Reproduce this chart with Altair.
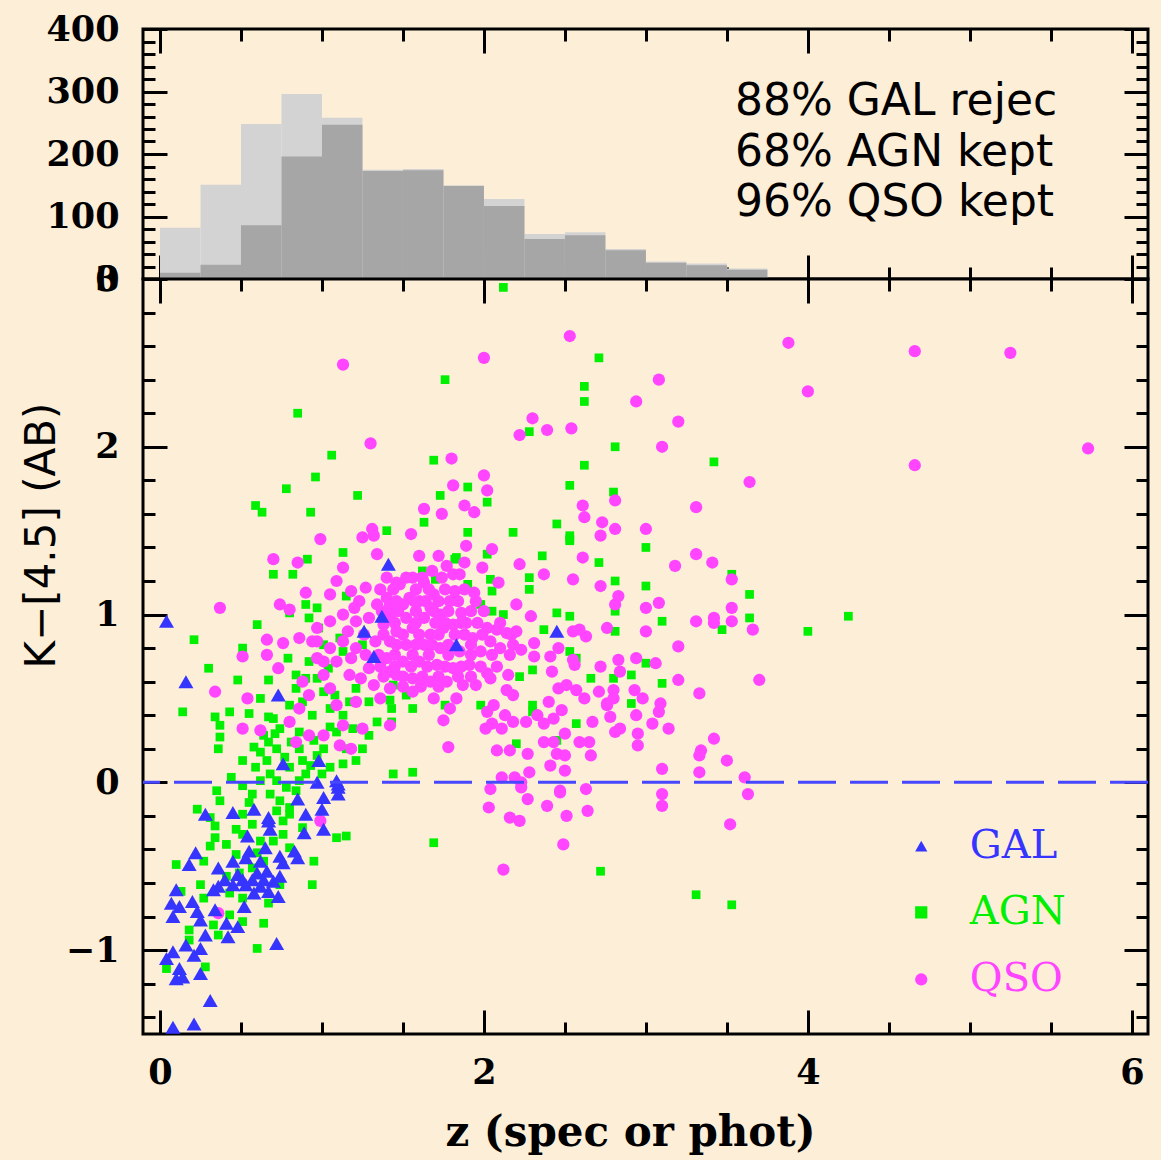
import altair as alt
import pandas as pd

BG = "#fdeed8"

# ---------------- redshift histogram (bins of 0.25) ----------------
bin_lo = [0.0, 0.25, 0.5, 0.75, 1.0, 1.25, 1.5, 1.75, 2.0, 2.25, 2.5, 2.75, 3.0, 3.25, 3.5]
bin_hi = [0.25, 0.5, 0.75, 1.0, 1.25, 1.5, 1.75, 2.0, 2.25, 2.5, 2.75, 3.0, 3.25, 3.5, 3.75]
n_all = [82, 151, 248, 296, 258, 175, 176, 150, 128, 72, 75, 48, 28, 25, 17]
n_kept = [10, 23, 86, 196, 247, 173, 174, 149, 117, 64, 70, 46, 26, 22, 15]

stats_text = ["88% GAL rejec", "68% AGN kept", "96% QSO kept"]
stats_z = [3.55, 3.55, 3.55]
stats_n = [262, 181, 101]

# ---------------- K-[4.5] colour vs redshift ----------------
gal = [(1.41, 1.30), (1.37, 0.99), (1.83, 0.82), (2.45, 0.90), (0.04, 0.96), (0.16, 0.60),
       (0.73, 0.52), (1.26, 0.90), (1.32, 0.75), (0.76, 0.11), (0.98, 0.13), (0.97, 0.00),
       (1.09, 0.01), (1.10, -0.03), (1.10, -0.07), (1.01, -0.09), (0.85, -0.10), (1.00, -0.16),
       (0.58, -0.16), (0.45, -0.18), (0.28, -0.19), (0.90, -0.19), (0.67, -0.21), (1.01, -0.28),
       (0.67, -0.23), (0.68, -0.28), (0.89, -0.30), (0.54, -0.32), (0.65, -0.39), (0.55, -0.41),
       (0.83, -0.41), (0.85, -0.45), (0.74, -0.44), (0.76, -0.48), (0.22, -0.42), (0.18, -0.49),
       (0.36, -0.51), (0.45, -0.47), (0.53, -0.45), (0.66, -0.53), (0.57, -0.58), (0.53, -0.61),
       (0.45, -0.61), (0.36, -0.62), (0.62, -0.62), (0.70, -0.59), (0.74, -0.56), (0.73, -0.68),
       (0.67, -0.65), (0.10, -0.64), (0.07, -0.72), (0.12, -0.74), (0.08, -0.80), (0.20, -0.71),
       (0.23, -0.77), (0.25, -0.82), (0.34, -0.76), (0.52, -0.74), (0.41, -0.84), (0.48, -0.86),
       (0.28, -0.91), (0.42, -0.92), (0.16, -0.97), (0.25, -0.99), (0.08, -1.01), (0.04, -1.05),
       (0.21, -1.03), (0.12, -1.11), (0.10, -1.17), (0.14, -1.16), (0.25, -1.14), (0.72, -0.96),
       (0.31, -1.30), (0.08, -1.46), (0.21, -1.44), (0.51, -0.58), (0.60, -0.54), (0.40, -0.58),
       (0.62, -0.47), (1.10, -0.01), (0.33, -0.64), (0.48, -0.55), (0.64, -0.58), (0.58, -0.66)]

agn = [(2.12, 2.95), (2.71, 2.53), (1.76, 2.40), (2.62, 2.36), (2.62, 2.27), (0.85, 2.20),
       (2.28, 2.09), (2.81, 2.00), (1.06, 1.95), (1.69, 1.92), (3.42, 1.91), (2.62, 1.89),
       (0.96, 1.82), (0.78, 1.75), (1.22, 1.71), (1.90, 1.76), (1.73, 1.71), (2.53, 1.77),
       (2.80, 1.73), (2.02, 1.67), (0.59, 1.65), (0.63, 1.61), (0.93, 1.61), (1.63, 1.55),
       (2.45, 1.54), (1.90, 1.49), (2.18, 1.49), (2.53, 1.47), (2.53, 1.45), (1.40, 1.50),
       (1.13, 1.37), (0.91, 1.33), (3.00, 1.40), (2.36, 1.35), (2.71, 1.31), (2.02, 1.36),
       (1.82, 1.33), (2.81, 1.20), (3.00, 1.17), (3.53, 1.24), (3.64, 1.12), (2.81, 1.02),
       (3.10, 0.96), (3.64, 0.98), (3.47, 0.91), (4.00, 0.90), (4.25, 0.99), (2.81, 0.90),
       (3.00, 0.71), (2.91, 0.64), (3.10, 0.59), (2.91, 0.47), (2.80, 0.62), (3.31, -0.67),
       (3.53, -0.73), (2.72, -0.53), (1.69, -0.36), (2.53, 1.44), (2.28, 1.22), (2.28, 1.15),
       (2.04, 1.21), (2.05, 1.14), (1.90, 1.18), (1.83, 1.34), (1.62, 1.26), (1.70, 1.21),
       (1.98, 1.06), (2.05, 1.02), (2.12, 1.00), (2.45, 1.01), (2.53, 0.99), (2.37, 0.91),
       (2.53, 0.78), (2.57, 0.74), (2.30, 0.67), (2.22, 0.63), (2.66, 0.62), (2.57, 0.35),
       (2.30, 0.46), (2.30, 0.42), (1.98, 0.46), (1.76, 0.46), (1.56, 0.44), (1.52, 0.52),
       (1.43, 0.44), (1.42, 0.49), (2.45, 0.25), (2.20, 0.23), (1.44, 0.05), (1.56, 0.06),
       (1.44, 0.58), (0.70, 1.24), (0.82, 1.24), (0.60, 0.94), (0.21, 0.85), (0.51, 0.80),
       (0.30, 0.68), (0.48, 0.61), (0.67, 0.61), (0.14, 0.42), (0.34, 0.39), (0.43, 0.42),
       (0.37, 0.34), (0.37, 0.27), (0.36, 0.20), (0.55, 0.41), (0.62, 0.50), (0.67, 0.39),
       (0.58, 0.21), (0.51, 0.13), (0.44, 0.03), (0.35, -0.05), (0.37, -0.11), (0.23, -0.16),
       (0.51, -0.02), (0.59, 0.09), (0.66, 0.13), (0.72, 0.20), (0.71, 0.29), (0.70, 0.38),
       (0.80, 0.36), (0.80, 0.46), (0.84, 0.56), (0.88, 0.48), (0.81, 0.24), (0.86, 0.20),
       (0.88, 0.13), (0.90, 0.05), (0.86, 0.01), (0.78, -0.03), (0.74, -0.11), (0.68, -0.07),
       (0.57, -0.07), (0.80, -0.19), (0.97, 0.16), (1.01, 0.20), (1.05, 0.09), (1.13, 0.11),
       (1.21, 0.13), (1.15, 0.20), (1.25, 0.20), (1.09, 0.30), (1.19, 0.32), (1.29, 0.28),
       (1.34, 0.36), (1.42, 0.56), (1.13, 0.40), (1.05, 0.44), (1.01, 0.54), (0.97, 0.62),
       (0.84, 0.64), (0.92, 0.72), (0.79, 0.74), (1.01, 0.82), (1.11, 0.86), (1.13, 0.78),
       (0.92, 0.98), (0.98, 0.92), (1.25, 0.82), (1.29, 0.68), (1.21, 0.56), (1.29, 0.48),
       (1.17, 0.48), (1.43, 0.36), (0.68, 0.05), (0.80, 0.09), (0.72, 0.01), (0.62, 0.01),
       (0.51, -0.19), (0.67, 0.24), (0.74, 0.32), (0.94, 0.40), (1.04, 0.68), (0.80, 1.01),
       (0.90, 1.06), (0.97, 1.04), (1.15, 1.11), (0.31, -0.21), (0.34, -0.26), (0.34, -0.33),
       (0.31, -0.38), (0.10, -0.49), (0.27, -0.47), (0.47, -0.43), (0.57, -0.51), (0.49, -0.54),
       (0.41, -0.56), (0.25, -0.61), (0.13, -0.65), (0.27, -0.69), (0.43, -0.66), (0.51, -0.69),
       (0.74, -0.61), (0.67, -0.72), (0.43, -0.79), (0.51, -0.83), (0.64, -0.84), (0.33, -0.85),
       (0.18, -0.88), (0.36, -0.91), (0.18, -0.94), (0.60, -0.99), (0.28, -1.10), (0.04, -1.11),
       (0.95, -0.47), (0.94, -0.61), (1.09, -0.33), (1.15, -0.32), (0.51, -0.31), (0.57, -0.25),
       (0.76, -0.23), (0.76, -0.31), (0.80, -0.15), (0.72, -0.17), (0.41, -0.37), (0.62, -0.35),
       (0.80, -0.39), (0.64, -0.47), (0.84, -0.05), (0.93, 0.10), (0.62, 0.18), (0.55, -0.12),
       (0.70, -0.35), (0.86, 0.30), (0.95, 0.25), (1.05, 0.33), (0.77, 0.15), (0.64, 0.28),
       (0.47, -0.28), (0.60, -0.42), (0.88, -0.27), (1.00, 0.05), (1.08, 0.52), (0.90, 0.62)]

qso = [(2.53, 2.66), (3.88, 2.62), (2.00, 2.53), (1.13, 2.49), (3.08, 2.40), (2.94, 2.27),
       (4.00, 2.33), (2.30, 2.17), (3.20, 2.15), (2.39, 2.10), (2.54, 2.11), (2.22, 2.07),
       (1.30, 2.02), (3.10, 2.00), (1.80, 1.93), (2.00, 1.83), (3.64, 1.79), (1.81, 1.77),
       (2.02, 1.74), (1.63, 1.63), (1.74, 1.60), (1.88, 1.65), (1.94, 1.61), (2.61, 1.65),
       (2.62, 1.58), (2.73, 1.55), (2.81, 1.68), (3.31, 1.64), (0.99, 1.45), (1.25, 1.46),
       (1.31, 1.51), (1.32, 1.47), (1.55, 1.48), (1.89, 1.41), (2.05, 1.39), (2.72, 1.47),
       (2.81, 1.51), (3.00, 1.51), (2.61, 1.34), (3.31, 1.36), (3.41, 1.31), (0.70, 1.33),
       (0.85, 1.31), (1.34, 1.36), (1.60, 1.35), (1.72, 1.35), (1.88, 1.31), (2.22, 1.30),
       (3.18, 1.29), (4.66, 2.57), (5.25, 2.56), (5.73, 1.99), (4.66, 1.89), (3.53, 1.21),
       (2.72, 1.17), (2.83, 1.11), (2.81, 1.06), (3.00, 1.04), (3.08, 1.07), (3.53, 1.04),
       (3.31, 0.96), (3.42, 0.98), (3.42, 0.95), (3.53, 0.96), (3.66, 0.91), (2.76, 0.92),
       (3.00, 0.90), (3.20, 0.81), (2.94, 0.74), (3.06, 0.71), (2.83, 0.73), (2.84, 0.66),
       (3.20, 0.61), (3.70, 0.61), (2.93, 0.55), (2.98, 0.50), (3.33, 0.53), (2.80, 0.55),
       (2.76, 0.47), (3.09, 0.47), (3.08, 0.42), (2.78, 0.39), (3.04, 0.35), (3.14, 0.32),
       (2.84, 0.32), (2.95, 0.29), (2.95, 0.22), (3.42, 0.26), (3.34, 0.19), (3.33, 0.16),
       (3.50, 0.13), (3.10, 0.08), (3.33, 0.06), (3.61, 0.03), (3.10, -0.07), (3.63, -0.07),
       (3.10, -0.14), (3.52, -0.25), (1.99, 1.28), (1.77, 1.29), (1.81, 1.24), (1.85, 1.24),
       (1.68, 1.26), (2.37, 1.24), (2.09, 1.19), (2.55, 1.21), (1.46, 1.19), (1.56, 1.22),
       (1.63, 1.19), (1.82, 1.14), (1.94, 1.13), (2.20, 1.06), (1.79, 1.08), (2.29, 0.99),
       (1.42, 1.06), (1.50, 1.06), (1.60, 1.08), (1.67, 1.04), (1.86, 1.01), (1.89, 0.95),
       (2.02, 0.92), (2.08, 0.91), (2.14, 0.89), (2.20, 0.90), (2.55, 0.90), (2.63, 0.87),
       (2.59, 0.91), (1.38, 0.94), (1.46, 0.90), (1.56, 0.92), (1.67, 0.88), (1.75, 0.92),
       (1.93, 0.86), (2.04, 0.84), (2.10, 0.80), (1.98, 0.78), (2.23, 0.79), (2.31, 0.83),
       (2.31, 0.75), (2.41, 0.75), (2.46, 0.80), (2.55, 0.73), (2.56, 0.70), (2.72, 0.69),
       (2.42, 0.66), (2.15, 0.64), (2.02, 0.65), (1.87, 0.58), (1.95, 0.58), (2.04, 0.62),
       (2.14, 0.55), (2.18, 0.52), (2.46, 0.56), (2.51, 0.58), (2.57, 0.55), (2.62, 0.50),
       (2.71, 0.54), (2.80, 0.50), (2.76, 0.46), (2.94, 0.40), (2.40, 0.48), (2.48, 0.43),
       (2.43, 0.38), (2.37, 0.35), (2.33, 0.40), (2.26, 0.36), (2.18, 0.36), (2.13, 0.40),
       (2.06, 0.46), (2.02, 0.42), (2.01, 0.32), (2.11, 0.32), (2.05, 0.35), (2.50, 0.29),
       (2.43, 0.24), (2.37, 0.24), (2.59, 0.24), (2.65, 0.24), (2.66, 0.16), (2.81, 0.30),
       (2.67, 0.36), (2.08, 0.19), (2.16, 0.19), (2.27, 0.17), (2.45, 0.17), (2.50, 0.16),
       (2.41, 0.10), (2.50, 0.07), (2.28, 0.06), (2.11, 0.03), (2.19, 0.03), (2.23, 0.00),
       (2.04, -0.04), (2.47, -0.05), (2.63, -0.04), (1.78, 0.21), (1.75, 0.37), (1.79, 0.44),
       (1.42, 0.34), (1.69, 0.50), (1.83, 0.50), (1.48, 1.18), (1.40, 1.10), (1.54, 1.10),
       (1.69, 1.12), (1.42, 0.98), (1.52, 0.98), (1.63, 0.98), (1.73, 1.00), (1.81, 0.94),
       (1.42, 0.84), (1.52, 0.82), (1.63, 0.82), (1.73, 0.80), (1.85, 0.78), (1.40, 0.74),
       (1.50, 0.72), (1.60, 0.72), (1.71, 0.70), (1.81, 0.68), (1.91, 0.70), (1.46, 0.64),
       (1.56, 0.62), (1.67, 0.60), (1.77, 0.60), (1.42, 0.56), (1.56, 0.54), (1.36, 0.50),
       (0.37, 1.04), (0.51, 0.75), (0.34, 0.54), (0.54, 0.50), (0.51, 0.32), (0.62, 0.31),
       (0.66, 0.85), (0.66, 0.76), (0.73, 0.68), (0.74, 1.06), (0.80, 1.03), (0.90, 1.13),
       (0.76, 0.83), (0.86, 0.86), (0.94, 0.84), (0.97, 0.74), (0.88, 0.60), (0.92, 0.52),
       (0.86, 0.44), (0.80, 0.36), (0.84, 0.24), (0.92, 0.28), (1.01, 0.28), (1.11, 0.22),
       (1.18, 0.20), (1.13, 0.34), (1.25, 0.32), (1.09, 0.46), (1.21, 0.48), (1.05, 0.56),
       (1.32, 0.58), (1.01, 0.64), (1.09, 0.72), (1.01, 0.72), (0.97, 0.92), (0.97, 0.84),
       (1.05, 0.96), (1.13, 1.00), (1.21, 0.96), (1.05, 0.80), (1.13, 0.84), (1.21, 0.80),
       (1.05, 1.12), (1.09, 1.20), (1.13, 1.28), (1.23, 1.08), (1.34, 1.06), (1.42, 1.02),
       (1.29, 0.68), (1.42, 0.66), (1.17, 0.64), (0.36, -0.78), (0.99, -0.23), (2.12, -0.52),
       (2.49, -0.37), (2.03, -0.15), (2.16, -0.21), (2.22, -0.23), (2.39, -0.14), (2.51, -0.20),
       (2.64, -0.17), (2.27, -0.10), (2.47, -0.06), (2.23, -0.03),
       # densely packed core of the QSO cloud
       (1.40, 1.22), (1.52, 1.22), (1.62, 1.22), (1.74, 1.22), (1.36, 1.15), (1.44, 1.15),
       (1.58, 1.15), (1.66, 1.15), (1.76, 1.15), (1.88, 1.15), (1.46, 1.08), (1.57, 1.08),
       (1.64, 1.08), (1.72, 1.08), (1.84, 1.08), (1.95, 1.08), (1.37, 1.02), (1.47, 1.02),
       (1.58, 1.02), (1.69, 1.02), (1.78, 1.02), (1.92, 1.02), (2.00, 1.02), (1.45, 0.95),
       (1.58, 0.95), (1.70, 0.95), (1.76, 0.95), (1.86, 0.95), (1.96, 0.95), (2.10, 0.95),
       (1.38, 0.88), (1.50, 0.88), (1.60, 0.88), (1.72, 0.88), (1.82, 0.88), (1.88, 0.88),
       (1.99, 0.88), (2.17, 0.88), (1.46, 0.82), (1.58, 0.82), (1.68, 0.82), (1.78, 0.82),
       (1.92, 0.82), (2.18, 0.82), (1.35, 0.76), (1.45, 0.76), (1.56, 0.76), (1.66, 0.76),
       (1.78, 0.76), (1.92, 0.76), (2.05, 0.76), (2.16, 0.76), (1.36, 0.69), (1.45, 0.69),
       (1.55, 0.69), (1.65, 0.69), (1.76, 0.69), (1.86, 0.69), (1.98, 0.69), (2.08, 0.69),
       (1.38, 0.63), (1.50, 0.63), (1.62, 0.63), (1.72, 0.63), (1.84, 0.63), (1.92, 0.63),
       (1.50, 0.57), (1.61, 0.57), (1.72, 0.57), (1.18, 1.14), (1.27, 1.16), (1.20, 1.04),
       (1.29, 0.98), (1.16, 0.90), (1.26, 0.88), (1.33, 0.84), (1.18, 0.74), (1.27, 0.76),
       (1.24, 0.62)]

classes = ["GAL", "AGN", "QSO"]
class_colors = ["#3535ff", "#00f000", "#ff45ff"]
class_shapes = ["triangle-up", "square", "circle"]
class_sizes = [225, 76, 150]

# legend entries, placed inside the plot (symbol column and text column)
legend_z_sym = [4.70, 4.70, 4.70]
legend_z_txt = [5.00, 5.00, 5.00]
legend_k = [-0.38, -0.775, -1.175]

# axis tick positions
z_major = [0, 2, 4, 6]
z_minor = [0.5, 1, 1.5, 2.5, 3, 3.5, 4.5, 5, 5.5]
k_major = [-1, 0, 1, 2, 3]
k_minor = [-1.4, -1.2, -0.8, -0.6, -0.4, -0.2, 0.2, 0.4, 0.6, 0.8, 1.2, 1.4, 1.6, 1.8,
           2.2, 2.4, 2.6, 2.8]
n_major = [0, 100, 200, 300, 400]
n_minor = [20, 40, 60, 80, 120, 140, 160, 180, 220, 240, 260, 280, 320, 340, 360, 380]

# ---------------- tables ----------------
hist_df = pd.DataFrame({"lo": bin_lo, "hi": bin_hi, "n_all": n_all, "n_kept": n_kept})
stats_df = pd.DataFrame({"txt": stats_text, "z": stats_z, "n": stats_n})
gal_df = pd.DataFrame(gal, columns=["z", "k"])
agn_df = pd.DataFrame(agn, columns=["z", "k"])
qso_df = pd.DataFrame(qso, columns=["z", "k"])
leg_df = pd.DataFrame({"cls": classes, "zs": legend_z_sym, "zt": legend_z_txt, "k": legend_k})
zero_df = pd.DataFrame({"k": [0.0]})
anchor_df = pd.DataFrame({"z": [0.0], "k": [0.0], "n": [0.0]})

# ---------------- scales & axes ----------------
Z_SCALE = alt.Scale(domain=[-0.105, 6.1], nice=False, zero=False)
K_SCALE = alt.Scale(domain=[-1.5, 3.0], nice=False, zero=False)
N_SCALE = alt.Scale(domain=[0, 400], nice=False)
COLOR = alt.Color("cls:N", scale=alt.Scale(domain=classes, range=class_colors), legend=None)
SHAPE = alt.Shape("cls:N", scale=alt.Scale(domain=classes, range=class_shapes), legend=None)

LABEL_FONT = "DejaVu Serif"
MAJOR, MINOR = 24, 12


def tick_axis(orient, values, length):
    # inward-pointing ticks: shift the axis line inside the frame by the tick length
    return alt.Axis(orient=orient, values=values, tickSize=length, offset=-length,
                    ticks=True, tickWidth=3, tickColor="black", labels=False,
                    domain=False, grid=False, title=None)


def label_axis(orient, values, title=None, **kw):
    return alt.Axis(orient=orient, values=values, ticks=False, tickSize=0, domain=False,
                    grid=False, labelFont=LABEL_FONT, labelFontWeight="bold",
                    labelFontSize=35, labelColor="black", labelPadding=kw.pop("pad", 22),
                    labelFlush=False, labelOverlap=False, labelBound=False,
                    title=title, **kw)


def carrier(xfield, xscale, xaxis, yfield, yscale, yaxis):
    return alt.Chart(anchor_df).mark_point(opacity=0).encode(
        x=alt.X(f"{xfield}:Q", scale=xscale, axis=xaxis),
        y=alt.Y(f"{yfield}:Q", scale=yscale, axis=yaxis),
    )


def scatter(df, i, xaxis=None, yaxis=None):
    return alt.Chart(df).mark_point(
        filled=True, opacity=1, strokeWidth=0, shape=class_shapes[i],
        size=class_sizes[i], color=class_colors[i],
    ).encode(
        x=alt.X("z:Q", scale=Z_SCALE, axis=xaxis),
        y=alt.Y("k:Q", scale=K_SCALE, axis=yaxis),
    )


W = 1005

# ---------------- top panel: histogram ----------------
bars_all = alt.Chart(hist_df).mark_bar(color="#d3d3d3", opacity=1).encode(
    x=alt.X("lo:Q", scale=Z_SCALE, axis=tick_axis("bottom", z_major, MAJOR)),
    x2="hi:Q",
    y=alt.Y("n_all:Q", scale=N_SCALE, axis=label_axis("left", n_major, pad=24)),
    y2=alt.datum(0),
)
bars_kept = alt.Chart(hist_df).mark_bar(color="#a6a6a6", opacity=1).encode(
    x=alt.X("lo:Q", scale=Z_SCALE, axis=tick_axis("bottom", z_minor, MINOR)),
    x2="hi:Q",
    y=alt.Y("n_kept:Q", scale=N_SCALE, axis=tick_axis("left", n_major, MAJOR)),
    y2=alt.datum(0),
)
stats = alt.Chart(stats_df).mark_text(
    align="left", baseline="alphabetic", font="DejaVu Sans", fontSize=44, color="black"
).encode(
    x=alt.X("z:Q", scale=Z_SCALE, axis=None),
    y=alt.Y("n:Q", scale=N_SCALE, axis=None),
    text="txt:N",
)
hist = alt.layer(
    bars_all,
    bars_kept,
    carrier("z", Z_SCALE, tick_axis("top", z_major, MAJOR), "n", N_SCALE, tick_axis("left", n_minor, MINOR)),
    carrier("z", Z_SCALE, tick_axis("top", z_minor, MINOR), "n", N_SCALE, tick_axis("right", n_major, MAJOR)),
    carrier("z", Z_SCALE, None, "n", N_SCALE, tick_axis("right", n_minor, MINOR)),
    stats,
).resolve_axis(x="independent", y="independent").properties(width=W, height=250)

# ---------------- bottom panel: colour vs redshift ----------------
x_labels = label_axis("bottom", z_major, title="z (spec or phot)", pad=21,
                      titleFont=LABEL_FONT, titleFontWeight="bold", titleFontSize=42,
                      titleColor="black", titlePadding=22, titleX=487)
y_labels = label_axis("left", k_major, title="K\u2212[4.5] (AB)", pad=24,
                      titleFont="DejaVu Sans", titleFontWeight="normal",
                      titleFontSize=42, titleColor="black", titlePadding=2, titleY=256)

zero_line = alt.Chart(zero_df).mark_rule(
    color="#4747ff", strokeWidth=3, strokeDash=[38, 14]
).encode(y=alt.Y("k:Q", scale=K_SCALE, axis=None))
leg_sym = alt.Chart(leg_df).mark_point(filled=True, opacity=1, strokeWidth=0).encode(
    x=alt.X("zs:Q", scale=Z_SCALE, axis=None),
    y=alt.Y("k:Q", scale=K_SCALE, axis=None),
    color=COLOR,
    shape=SHAPE,
    size=alt.value(150),
)
leg_txt = alt.Chart(leg_df).mark_text(
    align="left", baseline="middle", font=LABEL_FONT, fontSize=40
).encode(
    x=alt.X("zt:Q", scale=Z_SCALE, axis=None),
    y=alt.Y("k:Q", scale=K_SCALE, axis=None),
    text="cls:N",
    color=COLOR,
)
main = alt.layer(
    scatter(agn_df, 1, x_labels, y_labels),
    scatter(qso_df, 2),
    scatter(gal_df, 0),
    zero_line,
    carrier("z", Z_SCALE, tick_axis("bottom", z_major, MAJOR), "k", K_SCALE, tick_axis("left", k_major, MAJOR)),
    carrier("z", Z_SCALE, tick_axis("bottom", z_minor, MINOR), "k", K_SCALE, tick_axis("left", k_minor, MINOR)),
    carrier("z", Z_SCALE, tick_axis("top", z_major, MAJOR), "k", K_SCALE, tick_axis("right", k_major, MAJOR)),
    carrier("z", Z_SCALE, tick_axis("top", z_minor, MINOR), "k", K_SCALE, tick_axis("right", k_minor, MINOR)),
    leg_sym,
    leg_txt,
).resolve_axis(x="independent", y="independent").properties(width=W, height=755)

chart = (
    alt.vconcat(hist, main, spacing=0, bounds="flush")
    .configure(background=BG, padding={"left": 18, "top": 10, "right": 10, "bottom": 5})
    .configure_view(stroke="black", strokeWidth=3, fill=BG)
)

chart.save("out.html", embed_options={"renderer": "svg", "actions": False})
